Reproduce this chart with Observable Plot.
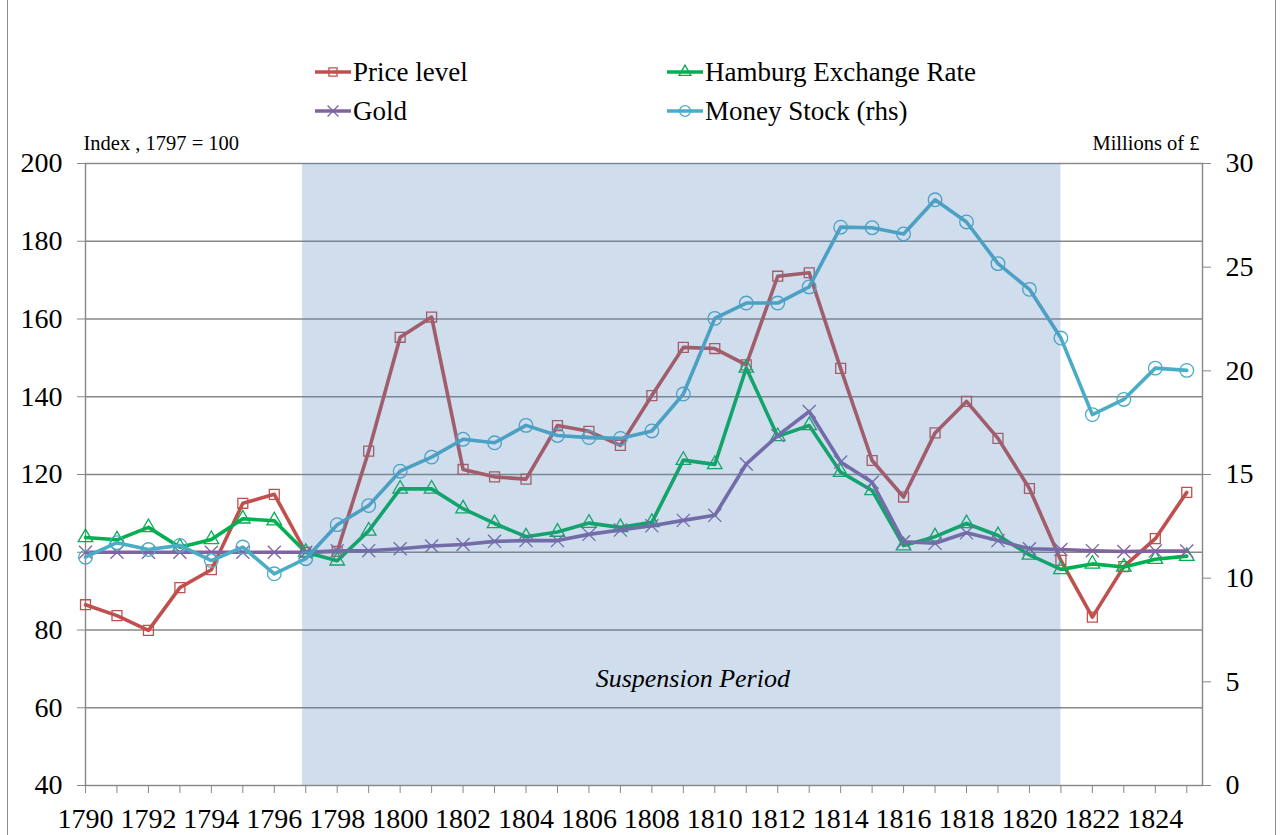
<!DOCTYPE html>
<html>
<head>
<meta charset="utf-8">
<script src="https://cdn.jsdelivr.net/npm/d3@7"></script>
<script src="https://cdn.jsdelivr.net/npm/@observablehq/plot@0.6"></script>
<style>
  html, body { margin: 0; padding: 0; background: #fff; }
  #wrap { position: relative; width: 1282px; height: 835px; overflow: hidden; font-family: 'Liberation Serif', 'Times New Roman', serif; }
  #border { position: absolute; left: 7px; top: -2px; width: 1269px; height: 845px; border-left: 1.5px solid #8a8a8a; border-right: 1.5px solid #8a8a8a; box-sizing: border-box; }
  .leg { position: absolute; display: flex; align-items: center; font-size: 27px; color: #000; white-space: nowrap; }
  .leg svg { margin-right: 2px; }
  #chart { position: absolute; left: 0; top: 125px; }
</style>
</head>
<body>
<div id="wrap">
  <div id="border"></div>
  <div id="legend"></div>
  <div id="chart"></div>
</div>
<script>
// ---- data ----
const years = [1790,1791,1792,1793,1794,1795,1796,1797,1798,1799,1800,1801,1802,1803,1804,1805,1806,1807,1808,1809,1810,1811,1812,1813,1814,1815,1816,1817,1818,1819,1820,1821,1822,1823,1824,1825];
const priceLevel = [86.5,83.7,79.9,90.9,95.5,112.6,114.9,100,100.2,126,155.3,160.5,121.3,119.4,118.8,132.6,131.1,127.5,140.3,152.7,152.4,148.2,171.0,171.9,147.3,123.6,114.2,130.7,138.8,129.3,116.4,97.9,83.3,96.3,103.5,115.4];
const hamburg = [103.8,103.2,106.4,101.3,103.3,108.6,108.1,100,97.8,105.5,116.3,116.3,111.2,107.4,104.0,105.2,107.5,106.4,107.7,123.7,122.6,147.4,129.8,132.6,120.6,115.9,101.7,104.0,107.4,104.3,99.3,95.6,97.0,96.2,98.2,99.0];
const gold = [100,100,100,100,100,100,100,100,100.4,100.4,100.9,101.6,102.0,102.8,103.0,103.0,104.6,105.7,106.8,108.2,109.5,122.7,130.0,136.2,123.2,118.0,102.7,102.3,105.0,103.0,100.9,100.7,100.4,100.2,100.3,100.3];
const moneyStock = [11.01,11.71,11.38,11.58,10.85,11.5,10.21,10.94,12.58,13.5,15.16,15.84,16.7,16.53,17.37,16.88,16.78,16.74,17.1,18.88,22.53,23.27,23.27,24.05,26.93,26.9,26.6,28.25,27.18,25.17,23.93,21.58,17.89,18.62,20.13,20.02];

const leftTicks = [40,60,80,100,120,140,160,180,200];
const rightTicks = [0,5,10,15,20,25,30];
const suspension = [{start: 1796.9, end: 1821, label: "Suspension Period"}];

const seriesInfo = [
  {key: "price", name: "Price level", color: "#C0504D", symbol: "square"},
  {key: "hamburg", name: "Hamburg Exchange Rate", color: "#00B050", symbol: "triangle"},
  {key: "gold", name: "Gold", color: "#8064A2", symbol: "times"},
  {key: "money", name: "Money Stock (rhs)", color: "#4BACC6", symbol: "circle"}
];

// ---- build table ----
const leftMin = 40, leftMax = 200, rhsMax = 30;
const rhsToLeft = v => leftMin + v * (leftMax - leftMin) / rhsMax;
const leftToRhs = v => (v - leftMin) * rhsMax / (leftMax - leftMin);

const table = years.map((y, i) => ({
  year: y,
  price: priceLevel[i],
  hamburg: hamburg[i],
  gold: gold[i],
  money: rhsToLeft(moneyStock[i])
}));

const font = "'Liberation Serif', 'Times New Roman', serif";
const gridColor = "#878787";

const marks = [
  Plot.gridY(leftTicks.slice(1, -1), {stroke: gridColor, strokeOpacity: 1, strokeWidth: 1.4}),
  Plot.frame({stroke: gridColor, strokeWidth: 1.4})
];
const symSize = {square: 5.6, triangle: 5.4, times: 6.0, circle: 6.8};
for (const s of seriesInfo) {
  marks.push(Plot.line(table, {x: "year", y: s.key, stroke: s.color, strokeWidth: 3.6, strokeLinejoin: "round", strokeLinecap: "round"}));
  marks.push(Plot.dot(table, {x: "year", y: s.key, symbol: s.symbol, r: symSize[s.symbol], stroke: s.color, fill: "none", strokeWidth: 1.3}));
}
marks.push(
  Plot.rect(suspension, {x1: "start", x2: "end", fill: "#4F81BD", fillOpacity: 0.27}),
  Plot.axisY(leftTicks, {anchor: "left", tickSize: 8, tickPadding: 15, stroke: gridColor, fill: "black", label: null, tickFormat: d => String(d)}),
  Plot.axisY(rightTicks.map(rhsToLeft), {anchor: "right", tickSize: 8, tickPadding: 15, stroke: gridColor, fill: "black", label: null, tickFormat: d => String(Math.round(leftToRhs(d)))}),
  Plot.axisX(years, {anchor: "bottom", tickSize: 8, tickPadding: 15, stroke: gridColor, fill: "black", label: null, tickFormat: d => d % 2 === 0 ? String(d) : ""}),
  Plot.text(["Index , 1797 = 100"], {frameAnchor: "top-left", textAnchor: "start", lineAnchor: "middle", dx: -2, dy: -20, fontSize: 20.5, fill: "black"}),
  Plot.text(["Millions of £"], {frameAnchor: "top-right", textAnchor: "end", lineAnchor: "middle", dx: -3, dy: -20, fontSize: 20.5, fill: "black"}),
  Plot.text(suspension, {x: d => (d.start + d.end) / 2, frameAnchor: "bottom", lineAnchor: "middle", dy: -107, dx: 11, text: "label", fontStyle: "italic", fontSize: 26, fill: "black"})
);

const chart = Plot.plot({
  width: 1282,
  height: 710,
  marginLeft: 85,
  marginRight: 80,
  marginTop: 38,
  marginBottom: 50,
  style: {fontFamily: font, fontSize: "28px", background: "transparent", color: "black"},
  x: {domain: [1790, 1825.5], axis: null},
  y: {domain: [leftMin, leftMax], axis: null},
  marks
});
document.getElementById("chart").appendChild(chart);

// ---- legend ----
const legendPos = [
  {left: 315, top: 72}, {left: 667, top: 72}, {left: 315, top: 111}, {left: 667, top: 111}
];
const legSize = {square: 4.6, triangle: 4.4, times: 5.0, circle: 5.4};
const legend = document.getElementById("legend");
seriesInfo.forEach((s, i) => {
  const div = document.createElement("div");
  div.className = "leg";
  div.style.left = legendPos[i].left + "px";
  div.style.top = (legendPos[i].top - 17) + "px";
  div.style.height = "34px";
  const sym = d3.symbol(
    {square: d3.symbolSquare, triangle: d3.symbolTriangle, times: d3.symbolTimes, circle: d3.symbolCircle}[s.symbol],
    Math.PI * legSize[s.symbol] * legSize[s.symbol]
  )();
  div.innerHTML = `<svg width="36" height="20" viewBox="0 0 36 20">
    <line x1="0" x2="36" y1="10" y2="10" stroke="${s.color}" stroke-width="3.6"/>
    <path d="${sym}" transform="translate(18,10)" fill="none" stroke="${s.color}" stroke-width="1.3"/>
  </svg><span>${s.name}</span>`;
  legend.appendChild(div);
});
</script>
</body>
</html>
